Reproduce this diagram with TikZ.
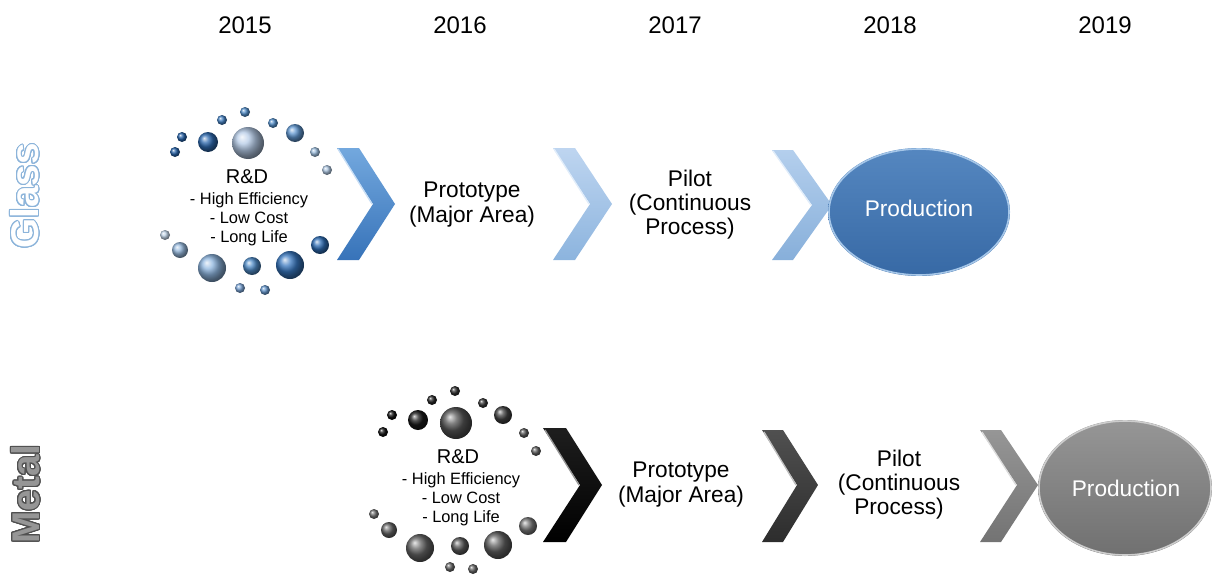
\documentclass[tikz,border=0pt]{standalone}
\usepackage{fontspec}
\setmainfont{Liberation Sans}
\usepackage{contour}
\usetikzlibrary{shapes,arrows}
\contourlength{0.7pt}
\contournumber{24}
\definecolor{glassEdge}{RGB}{140,180,218}
\definecolor{metalEdge}{RGB}{80,80,80}

\begin{document}
\begin{tikzpicture}[x=0.75pt,y=0.75pt,yscale=-1,xscale=1]
\useasboundingbox (0,0) rectangle (1213,578);

% Text Node
\draw (245,25) node [inner sep=0.75pt] [font=\fontsize{18}{22}\selectfont] (y2015) {2015};
% Text Node
\draw (460,25) node [inner sep=0.75pt] [font=\fontsize{18}{22}\selectfont] (y2016) {2016};
% Text Node
\draw (675,25) node [inner sep=0.75pt] [font=\fontsize{18}{22}\selectfont] (y2017) {2017};
% Text Node
\draw (890,25) node [inner sep=0.75pt] [font=\fontsize{18}{22}\selectfont] (y2018) {2018};
% Text Node
\draw (1105,25) node [inner sep=0.75pt] [font=\fontsize{18}{22}\selectfont] (y2019) {2019};

% Text Node
\draw (25,196) node [rotate=90,inner sep=0.75pt] [font=\fontsize{29}{32}\selectfont\bfseries] (glassLabel) {\color{white}\contour{glassEdge}{Glass}};
% Text Node
\draw (26,494) node [rotate=90,inner sep=0.75pt] [font=\fontsize{29}{32}\selectfont\bfseries] (metalLabel) {\color[RGB]{150,150,150}\contour{metalEdge}{Metal}};

%Shape: Circle [id:glassBubbles]
\shade [ball color={rgb, 255:red, 35; green, 95; blue, 165 }] (182,137) circle (5);
\shade [ball color={rgb, 255:red, 35; green, 95; blue, 165 }] (175,152) circle (5);
\shade [ball color={rgb, 255:red, 45; green, 105; blue, 175 }] (208,142) circle (10);
\shade [ball color={rgb, 255:red, 65; green, 125; blue, 190 }] (222,120) circle (5);
\shade [ball color={rgb, 255:red, 80; green, 140; blue, 200 }] (245,112) circle (5);
\shade [ball color={rgb, 255:red, 180; green, 202; blue, 230 }] (248,143) circle (16);
\shade [ball color={rgb, 255:red, 80; green, 140; blue, 200 }] (273,123) circle (5);
\shade [ball color={rgb, 255:red, 95; green, 150; blue, 208 }] (295,133) circle (9);
\shade [ball color={rgb, 255:red, 155; green, 188; blue, 220 }] (315,152) circle (5);
\shade [ball color={rgb, 255:red, 170; green, 195; blue, 222 }] (327,170) circle (5);
\shade [ball color={rgb, 255:red, 190; green, 210; blue, 230 }] (165,235) circle (5);
\shade [ball color={rgb, 255:red, 150; green, 185; blue, 222 }] (180,250) circle (8);
\shade [ball color={rgb, 255:red, 140; green, 180; blue, 222 }] (212,268) circle (14);
\shade [ball color={rgb, 255:red, 80; green, 140; blue, 200 }] (252,266) circle (9);
\shade [ball color={rgb, 255:red, 55; green, 118; blue, 190 }] (290,265) circle (14);
\shade [ball color={rgb, 255:red, 45; green, 108; blue, 180 }] (320,245) circle (9);
\shade [ball color={rgb, 255:red, 120; green, 162; blue, 212 }] (240,288) circle (5);
\shade [ball color={rgb, 255:red, 100; green, 150; blue, 205 }] (265,290) circle (5);

% Text Node
\draw (247,177) node [inner sep=0.75pt] [font=\fontsize{15}{17}\selectfont] (rdGlass) {R\&D};
% Text Node
\draw (249,219) node [inner sep=0.75pt] [font=\fontsize{12.3}{14.25}\selectfont] [align=center] (rdGlassList) {- High Efficiency\\- Low Cost\\- Long Life};

%Flowchart: Chevron [id:glassChevA]
\shade [top color={rgb, 255:red, 115; green, 168; blue, 222 }, bottom color={rgb, 255:red, 55; green, 115; blue, 185 }] (337,148) -- (359,148) -- (395,204) -- (359,260) -- (337,260) -- (373,204) -- cycle ;
\draw [color={rgb, 255:red, 200; green, 222; blue, 245 }, line width=1] (338,149) -- (372,204) ;

% Text Node
\draw (472,205) node [inner sep=0.75pt] [font=\fontsize{17}{18.75}\selectfont] [align=center] (protoGlass) {Prototype\\(Major Area)};

%Flowchart: Chevron [id:glassChevB]
\shade [top color={rgb, 255:red, 190; green, 213; blue, 240 }, bottom color={rgb, 255:red, 140; green, 180; blue, 222 }] (553,148) -- (575,148) -- (612,204) -- (575,260) -- (553,260) -- (590,204) -- cycle ;
\draw [color={rgb, 255:red, 225; green, 237; blue, 250 }, line width=1] (554,149) -- (589,204) ;

% Text Node
\draw (690,205) node [inner sep=0.75pt] [font=\fontsize{17}{18}\selectfont] [align=center] (pilotGlass) {Pilot\\(Continuous\\Process)};

%Flowchart: Chevron [id:glassChevC]
\shade [top color={rgb, 255:red, 180; green, 207; blue, 237 }, bottom color={rgb, 255:red, 135; green, 175; blue, 218 }] (772,150) -- (793,150) -- (832,205) -- (793,260) -- (772,260) -- (812,205) -- cycle ;
\draw [color={rgb, 255:red, 225; green, 237; blue, 250 }, line width=1] (773,151) -- (811,205) ;

%Shape: Ellipse [id:glassProd]
\shade [top color={rgb, 255:red, 85; green, 135; blue, 192 }, bottom color={rgb, 255:red, 55; green, 105; blue, 165 }] (919,212) ellipse (91 and 64);
\draw [color={rgb, 255:red, 165; green, 198; blue, 232 }, line width=1.2] (919,212) ellipse (90 and 63);
% Text Node
\draw (919,208) node [inner sep=0.75pt] [font=\fontsize{17}{20}\selectfont,color=white] (prodGlass) {Production};

%Shape: Circle [id:metalBubbles]
\shade [ball color={rgb, 255:red, 15; green, 15; blue, 15 }] (392,415) circle (5);
\shade [ball color={rgb, 255:red, 15; green, 15; blue, 15 }] (383,432) circle (5);
\shade [ball color={rgb, 255:red, 25; green, 25; blue, 25 }] (418,420) circle (10);
\shade [ball color={rgb, 255:red, 35; green, 35; blue, 35 }] (432,400) circle (5);
\shade [ball color={rgb, 255:red, 45; green, 45; blue, 45 }] (455,391) circle (5);
\shade [ball color={rgb, 255:red, 85; green, 85; blue, 85 }] (456,423) circle (16);
\shade [ball color={rgb, 255:red, 50; green, 50; blue, 50 }] (483,403) circle (5);
\shade [ball color={rgb, 255:red, 65; green, 65; blue, 65 }] (503,415) circle (9);
\shade [ball color={rgb, 255:red, 85; green, 85; blue, 85 }] (524,433) circle (5);
\shade [ball color={rgb, 255:red, 95; green, 95; blue, 95 }] (536,451) circle (5);
\shade [ball color={rgb, 255:red, 110; green, 110; blue, 110 }] (374,514) circle (5);
\shade [ball color={rgb, 255:red, 100; green, 100; blue, 100 }] (389,530) circle (8);
\shade [ball color={rgb, 255:red, 100; green, 100; blue, 100 }] (420,548) circle (14);
\shade [ball color={rgb, 255:red, 90; green, 90; blue, 90 }] (460,546) circle (9);
\shade [ball color={rgb, 255:red, 95; green, 95; blue, 95 }] (498,545) circle (14);
\shade [ball color={rgb, 255:red, 120; green, 120; blue, 120 }] (528,526) circle (9);
\shade [ball color={rgb, 255:red, 100; green, 100; blue, 100 }] (450,567) circle (5);
\shade [ball color={rgb, 255:red, 100; green, 100; blue, 100 }] (473,569) circle (5);

% Text Node
\draw (458,457) node [inner sep=0.75pt] [font=\fontsize{15}{17}\selectfont] (rdMetal) {R\&D};
% Text Node
\draw (461,499) node [inner sep=0.75pt] [font=\fontsize{12.3}{14.25}\selectfont] [align=center] (rdMetalList) {- High Efficiency\\- Low Cost\\- Long Life};

%Flowchart: Chevron [id:metalChevA]
\shade [top color={rgb, 255:red, 30; green, 30; blue, 30 }, bottom color={rgb, 255:red, 0; green, 0; blue, 0 }] (543,428) -- (566,428) -- (602,485) -- (566,542) -- (543,542) -- (580,485) -- cycle ;
\draw [color={rgb, 255:red, 150; green, 150; blue, 150 }, line width=1] (545,430) -- (579,485) ;

% Text Node
\draw (681,485) node [inner sep=0.75pt] [font=\fontsize{17}{18.75}\selectfont] [align=center] (protoMetal) {Prototype\\(Major Area)};

%Flowchart: Chevron [id:metalChevB]
\shade [top color={rgb, 255:red, 80; green, 80; blue, 80 }, bottom color={rgb, 255:red, 45; green, 45; blue, 45 }] (762,430) -- (783,430) -- (818,485) -- (783,542) -- (762,542) -- (797,485) -- cycle ;
\draw [color={rgb, 255:red, 190; green, 190; blue, 190 }, line width=1] (764,432) -- (796,485) ;

% Text Node
\draw (899,485) node [inner sep=0.75pt] [font=\fontsize{17}{18}\selectfont] [align=center] (pilotMetal) {Pilot\\(Continuous\\Process)};

%Flowchart: Chevron [id:metalChevC]
\shade [top color={rgb, 255:red, 150; green, 150; blue, 150 }, bottom color={rgb, 255:red, 115; green, 115; blue, 115 }] (980,430) -- (1001,430) -- (1038,485) -- (1001,542) -- (980,542) -- (1017,485) -- cycle ;
\draw [color={rgb, 255:red, 220; green, 220; blue, 220 }, line width=1] (982,432) -- (1016,485) ;

%Shape: Ellipse [id:metalProd]
\shade [top color={rgb, 255:red, 150; green, 150; blue, 150 }, bottom color={rgb, 255:red, 112; green, 112; blue, 112 }] (1125,488) ellipse (87 and 68);
\draw [color={rgb, 255:red, 205; green, 205; blue, 205 }, line width=1.2] (1125,488) ellipse (86 and 67);
% Text Node
\draw (1126,488) node [inner sep=0.75pt] [font=\fontsize{17}{20}\selectfont,color=white] (prodMetal) {Production};

\end{tikzpicture}
\end{document}
